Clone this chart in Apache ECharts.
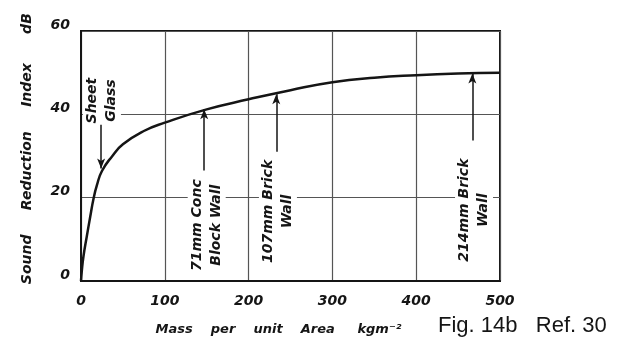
<!DOCTYPE html>
<html>
<head>
<meta charset="utf-8">
<script src="https://cdn.jsdelivr.net/npm/echarts@6/dist/echarts.min.js"></script>
<style>
html, body { margin: 0; padding: 0; background: #fff; }
#main { width: 631px; height: 345px; }
</style>
</head>
<body>
<div id="main"></div>
<script>
// mass per unit area (kg/m2) and sound reduction index (dB)
var mass = [0, 1, 3, 7, 11, 15, 19, 25, 37, 50, 75, 100, 150, 200, 250, 300, 350, 400, 450, 500];
var sri = [0, 2.5, 6, 10.8, 15.4, 19.8, 23, 26.4, 29.9, 32.8, 36, 38, 41.2, 43.6, 45.8, 47.7, 48.8, 49.4, 49.8, 50];

// annotations: label, arrow x, arrow tail / tip (dB), label centre (mass, dB)
var noteText = ['Sheet\nGlass', '71mm Conc\nBlock Wall', '107mm Brick\nWall', '214mm Brick\nWall'];
var noteX = [24, 147, 233, 467];
var noteTail = [37.5, 26.5, 31, 33.7];
var noteTip = [27, 41.2, 44.8, 49.8];
var labelX = [25, 150, 235, 469];
var labelY = [43.3, 13.4, 16.7, 17];

var ink = '#151515';
var tickFont = 'DejaVu Sans';

var chart = echarts.init(document.getElementById('main'));

var arrows = noteX.map(function (x, i) {
    return [{ coord: [x, noteTail[i]] }, { coord: [x, noteTip[i]] }];
});

var option = {
    animation: false,
    backgroundColor: '#fff',
    grid: {
        left: 81, right: 131, top: 31, bottom: 64,
        show: true, borderColor: ink, borderWidth: 2
    },
    xAxis: {
        type: 'value',
        min: 0, max: 500, interval: 100,
        axisLine: { lineStyle: { color: ink, width: 2 } },
        axisTick: { show: false },
        splitLine: { lineStyle: { color: '#555', width: 1.2 } },
        axisLabel: {
            color: ink, fontFamily: tickFont, fontStyle: 'italic', fontWeight: 'bold', fontSize: 14,
            margin: 13
        },
        name: 'Mass    per    unit    Area     kgm\u207B\u00B2',
        nameLocation: 'middle',
        nameGap: 42,
        nameTextStyle: {
            color: ink, fontFamily: tickFont, fontStyle: 'italic', fontWeight: 'bold', fontSize: 13,
            padding: [0, 24, 0, 0]
        }
    },
    yAxis: {
        type: 'value',
        min: 0, max: 60, interval: 20,
        axisLine: { lineStyle: { color: ink, width: 2 } },
        axisTick: { show: false },
        splitLine: { lineStyle: { color: '#555', width: 1.2 } },
        axisLabel: {
            color: ink, fontFamily: tickFont, fontStyle: 'italic', fontWeight: 'bold', fontSize: 14,
            margin: 11, verticalAlign: 'bottom', lineHeight: 12
        },
        name: '   Sound     Reduction     Index      dB',
        nameLocation: 'middle',
        nameRotate: 90,
        nameGap: 47,
        nameTextStyle: {
            color: ink, fontFamily: tickFont, fontStyle: 'italic', fontWeight: 'bold', fontSize: 14
        }
    },
    series: [{
        type: 'line',
        data: mass.map(function (m, i) { return [m, sri[i]]; }),
        smooth: 0.5,
        showSymbol: false,
        lineStyle: { color: ink, width: 2.5 },
        z: 5,
        markLine: {
            silent: true,
            symbol: ['none', 'arrow'],
            symbolSize: [6, 10],
            label: { show: false },
            lineStyle: { color: ink, width: 1.5, type: 'solid' },
            data: arrows
        }
    }]
};
chart.setOption(option);

var notes = noteText.map(function (t, i) {
    var p = chart.convertToPixel({ gridIndex: 0 }, [labelX[i], labelY[i]]);
    return {
        type: 'text',
        x: p[0], y: p[1],
        rotation: Math.PI / 2,
        z: 100,
        style: {
            text: t,
            fill: ink,
            font: 'italic bold 14px "DejaVu Sans"',
            align: 'center',
            verticalAlign: 'middle',
            lineHeight: 19,
            backgroundColor: '#fff'
        }
    };
});
notes.push({
    type: 'text',
    left: 438, top: 315,
    style: { text: 'Fig. 14b   Ref. 30', fill: ink, font: '22px "Liberation Sans"' }
});
chart.setOption({ graphic: notes });
</script>
</body>
</html>
